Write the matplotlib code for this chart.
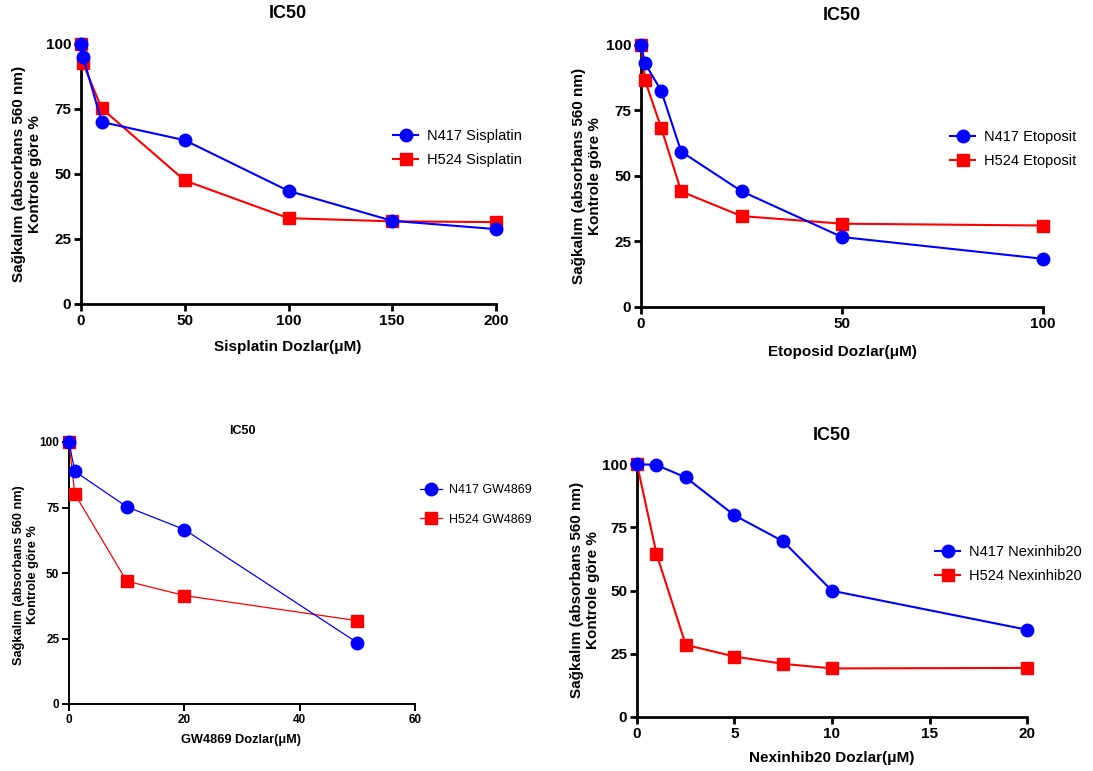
import numpy as np
import matplotlib
matplotlib.use('Agg')
import matplotlib.pyplot as plt

plt.rcParams['font.family'] = ['Liberation Sans', 'DejaVu Sans']

W, H = 1093, 771
BLUE = '#0000ff'
RED = '#ff0000'
YLABEL = 'Sağkalım (absorbans 560 nm)\nKontrole göre %'

# Sisplatin
sis_x = [0, 1, 10, 50, 100, 150, 200]
sis_n417 = [100, 95, 70, 63, 43.5, 32, 28.8]
sis_h524 = [100, 92.5, 75.2, 47.5, 33, 31.8, 31.5]

# Etoposid
eto_x = [0, 1, 5, 10, 25, 50, 100]
eto_n417 = [100, 93, 82.6, 59.3, 44.2, 26.7, 18.4]
eto_h524 = [100, 86.5, 68.5, 44.1, 34.7, 31.8, 31.1]

# GW4869
gw_x = [0, 1, 10, 20, 50]
gw_n417 = [100, 88.8, 75.3, 66.6, 23.4]
gw_h524 = [100, 80.2, 46.9, 41.4, 31.8]

# Nexinhib20
nex_x = [0, 1, 2.5, 5, 7.5, 10, 20]
nex_n417 = [100, 99.6, 94.7, 79.7, 69.4, 49.9, 34.5]
nex_h524 = [100, 64.5, 28.5, 23.9, 21.0, 19.2, 19.4]


def box(l, t, r, b):
    return [l / W, 1 - b / H, (r - l) / W, (b - t) / H]


def ftext(fig, x, y, s, **kw):
    fig.text(x / W, 1 - y / H, s, ha='center', va='center', **kw)


def panel(fig, rect, x, n417, h524, names, xlim, xticks, xlabel, leg_xy,
          title_xy, xlab_xy, ylab_xy, fs_tick=11, fs_lab=11, fs_title=13,
          fs_leg=10.5, lw=1.5, spw=2.0, ms=9, lspace=0.7):
    ax = fig.add_axes(box(*rect))
    ax.plot(x, n417, color=BLUE, marker='o', ms=ms, lw=lw, label=names[0],
            clip_on=False, zorder=4)
    ax.plot(x, h524, color=RED, marker='s', ms=ms, lw=lw, label=names[1],
            clip_on=False, zorder=3)
    ax.set_xlim(*xlim)
    ax.set_ylim(0, 100)
    ax.set_xticks(xticks)
    ax.set_yticks([0, 25, 50, 75, 100])
    for s in ['top', 'right']:
        ax.spines[s].set_visible(False)
    for s in ['left', 'bottom']:
        ax.spines[s].set_linewidth(spw)
    ax.tick_params(width=spw, length=5, labelsize=fs_tick, pad=2)
    for lbl in ax.get_xticklabels() + ax.get_yticklabels():
        lbl.set_fontweight('bold')
    ftext(fig, *title_xy, 'IC50', fontsize=fs_title, fontweight='bold')
    ftext(fig, *xlab_xy, xlabel, fontsize=fs_lab, fontweight='bold')
    ftext(fig, *ylab_xy, YLABEL, fontsize=fs_lab, fontweight='bold',
          rotation=90, multialignment='center', linespacing=1.15)
    ax.legend(loc='center left', bbox_to_anchor=(leg_xy[0] / W, 1 - leg_xy[1] / H),
              bbox_transform=fig.transFigure, frameon=False, fontsize=fs_leg,
              handlelength=1.7, handletextpad=0.6, labelspacing=lspace,
              borderpad=0)
    return ax


fig = plt.figure(figsize=(W / 100, H / 100), dpi=100)

panel(fig, (81, 44, 496, 304), sis_x, sis_n417, sis_h524,
      ['N417 Sisplatin', 'H524 Sisplatin'], (0, 200), [0, 50, 100, 150, 200],
      'Sisplatin Dozlar(μM)', (386, 148), (288, 14), (288, 347), (27, 174))

panel(fig, (641, 45, 1043, 307), eto_x, eto_n417, eto_h524,
      ['N417 Etoposit', 'H524 Etoposit'], (0, 100), [0, 50, 100],
      'Etoposid Dozlar(μM)', (943, 149), (842, 15), (842, 352), (587, 176))

panel(fig, (69, 442, 415, 704), gw_x, gw_n417, gw_h524,
      ['N417 GW4869', 'H524 GW4869'], (0, 60), [0, 20, 40, 60],
      'GW4869 Dozlar(μM)', (414, 505), (242, 431), (241, 740), (26, 575),
      fs_tick=8.5, fs_lab=9.2, fs_title=9, fs_leg=9, lw=0.9, spw=1.4, ms=9,
      lspace=1.4)

panel(fig, (637, 464, 1027, 717), nex_x, nex_n417, nex_h524,
      ['N417 Nexinhib20', 'H524 Nexinhib20'], (0, 20), [0, 5, 10, 15, 20],
      'Nexinhib20 Dozlar(μM)', (928, 564), (832, 435), (832, 758), (585, 590))

fig.savefig('out.png', dpi=100)
